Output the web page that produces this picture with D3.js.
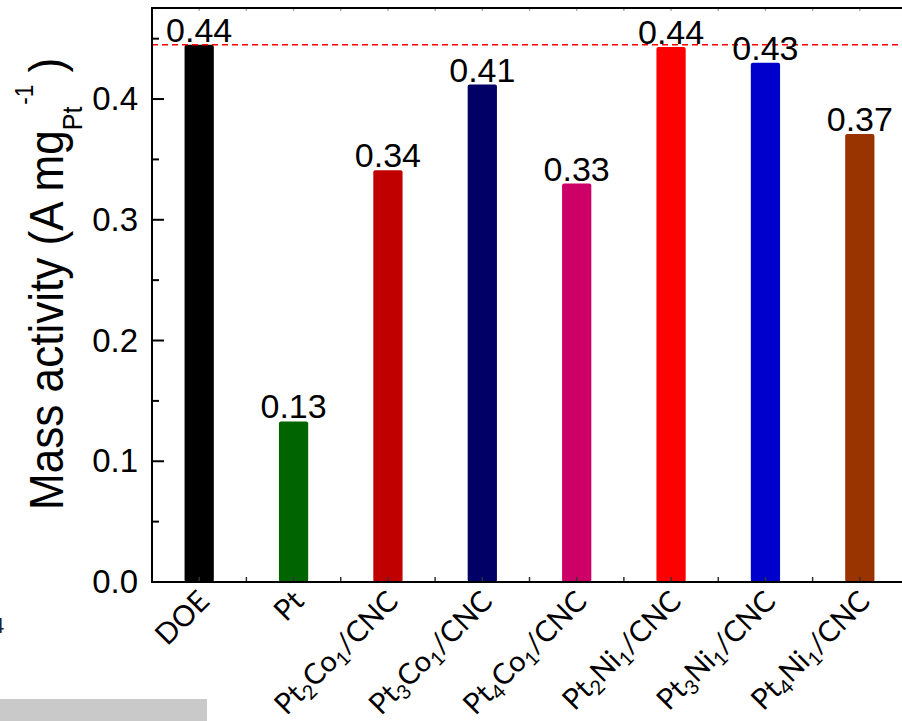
<!DOCTYPE html>
<html><head><meta charset="utf-8">
<script src="https://cdn.jsdelivr.net/npm/d3@7"></script>
<style>
html,body{margin:0;padding:0;background:#fff;}
svg{display:block;}
</style></head>
<body>
<svg id="chart" width="902" height="721"></svg>
<script>
const categories = ["DOE","Pt","Pt2Co1/CNC","Pt3Co1/CNC","Pt4Co1/CNC","Pt2Ni1/CNC","Pt3Ni1/CNC","Pt4Ni1/CNC"];
const values = [0.445, 0.133, 0.341, 0.412, 0.330, 0.443, 0.430, 0.371];
const valueLabels = ["0.44","0.13","0.34","0.41","0.33","0.44","0.43","0.37"];
const colors = ["#000000","#006400","#C00000","#000066","#CC0066","#FF0000","#0000CC","#993300"];
const yTicks = [0.0, 0.1, 0.2, 0.3, 0.4];
const yMinorTicks = [0.05, 0.15, 0.25, 0.35, 0.45];
const doeLevel = 0.445;

const svg = d3.select("#chart");
const L = 152, R = 907, T = 8, B = 582;
const x = d3.scaleBand().domain(categories).range([L, R]).padding(0);
const y = d3.scaleLinear().domain([0, 0.4754]).range([B, T]);
const bw = x.bandwidth() * 0.31;

// decorative artifacts from the source image
svg.append("rect").attr("x", 0).attr("y", 699).attr("width", 207).attr("height", 22).attr("fill", "#c9c9c9");
svg.append("text").attr("x", -8).attr("y", 633).attr("font-family", "Liberation Sans, Arial, sans-serif")
  .attr("font-size", 22).attr("fill", "#222").text("4");

// bars
svg.append("g").selectAll("rect").data(categories).join("rect")
  .attr("x", d => x(d) + x.bandwidth()/2 - bw/2)
  .attr("y", (d,i) => y(values[i]))
  .attr("width", bw)
  .attr("height", (d,i) => B - y(values[i]))
  .attr("rx", 2)
  .attr("fill", (d,i) => colors[i]);

// reference dashed line
svg.append("line").attr("x1", L).attr("x2", R).attr("y1", y(doeLevel)).attr("y2", y(doeLevel))
  .attr("stroke", "#FF0000").attr("stroke-width", 1.5).attr("stroke-dasharray", "6,4");

// value labels
svg.append("g").selectAll("text").data(categories).join("text")
  .attr("x", d => x(d) + x.bandwidth()/2)
  .attr("y", (d,i) => y(values[i]) - 3)
  .attr("text-anchor", "middle")
  .attr("font-family", "Liberation Sans, Arial, sans-serif")
  .attr("font-size", 34)
  .attr("fill", "#000")
  .text((d,i) => valueLabels[i]);

// y axis
const yAxis = d3.axisLeft(y).tickValues(yTicks).tickFormat(d3.format(".1f")).tickSize(0).tickPadding(14);
const gy = svg.append("g").attr("transform", `translate(${L},0)`).call(yAxis);
gy.select(".domain").remove();
gy.selectAll("text").attr("font-family", "Liberation Sans, Arial, sans-serif").attr("font-size", 33).attr("fill", "#000");
// inward major / minor ticks
svg.append("g").selectAll("line").data(yTicks).join("line")
  .attr("x1", L).attr("x2", L + 12).attr("y1", d => y(d)).attr("y2", d => y(d))
  .attr("stroke", "#000").attr("stroke-width", 2);
svg.append("g").selectAll("line").data(yMinorTicks.filter(d => y(d) > T)).join("line")
  .attr("x1", L).attr("x2", L + 7).attr("y1", d => y(d)).attr("y2", d => y(d))
  .attr("stroke", "#000").attr("stroke-width", 2);

// x ticks (centers and half steps), inward
const xTickPos = [];
categories.forEach(c => { xTickPos.push(x(c)); xTickPos.push(x(c) + x.bandwidth()/2); });
svg.append("g").selectAll("line").data(xTickPos.filter(p => p > L + 2)).join("line")
  .attr("x1", d => d).attr("x2", d => d).attr("y1", B).attr("y2", B - 5)
  .attr("stroke", "#333").attr("stroke-width", 1.5);
svg.append("g").selectAll("line").data(xTickPos.filter(p => p > L + 2)).join("line")
  .attr("x1", d => d).attr("x2", d => d).attr("y1", T).attr("y2", T + 3)
  .attr("stroke", "#aaa").attr("stroke-width", 1.5);

// frame
svg.append("path").attr("d", `M${R},${T}H${L}V${B}H${R}`).attr("fill", "none")
  .attr("stroke", "#000").attr("stroke-width", 2);

// x labels with subscripts
const xl = svg.append("g").selectAll("text").data(categories).join("text")
  .attr("transform", d => `translate(${x(d) + x.bandwidth()/2 + 12},603) rotate(-45)`)
  .attr("text-anchor", "end")
  .attr("font-family", "Lato, 'Open Sans', sans-serif")
  .attr("font-size", 29)
  .attr("fill", "#000");
xl.each(function(d) {
  const t = d3.select(this);
  const parts = d.split(/(\d+)/).filter(s => s.length);
  let shifted = false;
  parts.forEach(p => {
    const isSub = /^\d+$/.test(p);
    const ts = t.append("tspan").text(p);
    if (isSub) { ts.attr("font-size", 20).attr("dy", 6); shifted = true; }
    else if (shifted) { ts.attr("dy", -6); shifted = false; }
  });
});

// y title
const yt = svg.append("text")
  .attr("transform", "translate(63,510) rotate(-90) scale(0.9,1)")
  .attr("font-family", "Liberation Sans, Arial, sans-serif")
  .attr("font-size", 49).attr("fill", "#000");
yt.append("tspan").text("Mass activity (A mg");
yt.append("tspan").attr("font-size", 28).attr("dy", 19).text("Pt");
yt.append("tspan").attr("font-size", 25).attr("dy", -49).attr("dx", 2).text("-1");
yt.append("tspan").attr("dy", 30).text(" )");
</script>
</body></html>
